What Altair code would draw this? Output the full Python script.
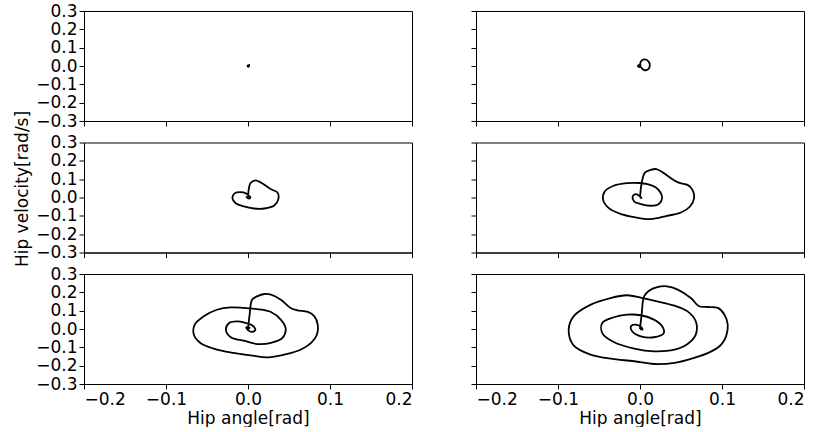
import altair as alt
import pandas as pd

# Panel 1 (top-left): tiny blob at origin
p1_x = [0.0, 0.0012, 0.0015, 0.0008, 0.0, -0.0005, 0.0004, 0.001, 0.0]
p1_y = [0.0, 0.004, 0.006, -0.002, -0.004, 0.001, 0.003, -0.003, 0.0]

# Panel 2 (top-right): small loop
p2_x = [0.0, 0.001, 0.005, 0.010, 0.012, 0.010, 0.005, 0.001, -0.002, -0.0025, -0.001, 0.001, 0.0]
p2_y = [0.0, 0.024, 0.036, 0.027, 0.005, -0.018, -0.022, -0.007, -0.004, 0.002, 0.004, 0.001, 0.0]

# Panel 3 (middle-left)
p3_x = [0.0, 0.003, 0.009, 0.0155, 0.028, 0.036, 0.037, 0.032, 0.020, 0.007, -0.005, -0.015,
        -0.019, -0.016, -0.009, -0.003, 0.001, 0.003, 0.001, -0.002, 0.0]
p3_y = [0.0, 0.078, 0.093, 0.082, 0.045, 0.027, -0.009, -0.044, -0.060, -0.060, -0.049, -0.031,
        -0.004, 0.024, 0.029, 0.024, 0.010, 0.0, -0.006, 0.003, 0.0]

# Panel 4 (middle-right)
p4_x = [0.0, 0.002, 0.006, 0.013, 0.020, 0.029, 0.042, 0.049, 0.058, 0.064, 0.066, 0.061, 0.050,
        0.033, 0.013, -0.007, -0.024, -0.038, -0.045, -0.043, -0.032, -0.016, 0.000, 0.009,
        0.019, 0.025, 0.027, 0.023, 0.013, 0.001, -0.007, -0.009, -0.005, 0.0, 0.002, 0.0]
p4_y = [0.0, 0.078, 0.136, 0.151, 0.155, 0.133, 0.093, 0.078, 0.069, 0.042, -0.004, -0.049, -0.082,
        -0.100, -0.118, -0.107, -0.089, -0.058, -0.013, 0.033, 0.064, 0.078, 0.079, 0.073,
        0.056, 0.027, -0.004, -0.035, -0.045, -0.036, -0.022, 0.005, 0.018, 0.006, -0.003, 0.0]

# Panel 5 (bottom-left)
p5_x = [0.0, 0.002, 0.005, 0.011, 0.020, 0.028, 0.040, 0.052, 0.060, 0.073, 0.081, 0.085, 0.084,
        0.077, 0.064, 0.048, 0.024, 0.003, -0.025, -0.042, -0.058, -0.066, -0.065, -0.054,
        -0.038, -0.021, -0.005, 0.011, 0.028, 0.040, 0.046, 0.042, 0.028, 0.011, -0.005,
        -0.021, -0.027, -0.023, -0.013, -0.003, 0.005, 0.009, 0.005, 0.0, -0.002, 0.002, 0.0]
p5_y = [0.0, 0.078, 0.160, 0.178, 0.191, 0.187, 0.160, 0.115, 0.102, 0.093, 0.069, 0.024, -0.031,
        -0.076, -0.113, -0.136, -0.155, -0.144, -0.125, -0.107, -0.076, -0.031, 0.024, 0.069,
        0.105, 0.118, 0.115, 0.109, 0.093, 0.051, 0.002, -0.049, -0.076, -0.082, -0.064,
        -0.045, -0.004, 0.033, 0.042, 0.033, 0.020, -0.004, -0.016, -0.006, 0.010, 0.006, 0.0]

# Panel 6 (bottom-right)
p6_x = [0.0, 0.002, 0.005, 0.011, 0.021, 0.033, 0.046, 0.062, 0.072, 0.082, 0.095, 0.103, 0.107,
        0.105, 0.099, 0.087, 0.066, 0.042, 0.017, -0.007, -0.036, -0.060, -0.081, -0.087,
        -0.081, -0.060, -0.036, -0.016, 0.002, 0.021, 0.042, 0.058, 0.068, 0.068, 0.058,
        0.042, 0.017, -0.007, -0.032, -0.046, -0.046, -0.032, -0.016, 0.001, 0.017, 0.027,
        0.029, 0.017, 0.001, -0.009, -0.011, -0.005, 0.002, 0.003, 0.0]
p6_y = [0.0, 0.078, 0.178, 0.209, 0.229, 0.233, 0.215, 0.169, 0.124, 0.120, 0.115, 0.078, 0.024,
        -0.040, -0.085, -0.122, -0.158, -0.185, -0.191, -0.176, -0.162, -0.140, -0.089, -0.004,
        0.069, 0.133, 0.169, 0.184, 0.170, 0.151, 0.127, 0.096, 0.042, -0.031, -0.082,
        -0.113, -0.122, -0.107, -0.071, -0.022, 0.033, 0.064, 0.078, 0.075, 0.051, 0.015,
        -0.022, -0.045, -0.040, -0.016, 0.015, 0.024, 0.008, -0.004, 0.0]

x_ticks = [-0.2, -0.1, 0.0, 0.1, 0.2]
y_ticks = [-0.3, -0.2, -0.1, 0.0, 0.1, 0.2, 0.3]

FONT = "DejaVu Sans"
FS = 17


def panel(xs, ys, show_xlabels, show_ylabels, ytitle=None):
    df = pd.DataFrame({"i": list(range(len(xs))), "x": xs, "y": ys})
    xaxis = alt.Axis(values=x_ticks, labels=show_xlabels, format=".1f",
                     title="Hip angle[rad]" if show_xlabels else None, titlePadding=3)
    yargs = dict(values=y_ticks, labels=show_ylabels, format=".1f")
    if ytitle:
        yargs["title"] = ytitle
        yargs["titleY"] = 46
    else:
        yargs["title"] = None
    yaxis = alt.Axis(**yargs)
    return alt.Chart(df).mark_line(color="black", strokeWidth=1.8,
                                   interpolate="catmull-rom").encode(
        x=alt.X("x:Q", scale=alt.Scale(domain=[-0.2, 0.2], nice=False), axis=xaxis),
        y=alt.Y("y:Q", scale=alt.Scale(domain=[-0.3, 0.3], nice=False), axis=yaxis),
        order="i:Q",
    ).properties(width=328, height=110)


panels = [
    panel(p1_x, p1_y, False, True), panel(p2_x, p2_y, False, False),
    panel(p3_x, p3_y, False, True, "Hip velocity[rad/s]"), panel(p4_x, p4_y, False, False),
    panel(p5_x, p5_y, True, True), panel(p6_x, p6_y, True, False),
]

chart = alt.concat(*panels, columns=2, spacing={"row": 21.5, "column": 64},
                   bounds="flush").configure_view(
    stroke="black", strokeWidth=1
).configure_axis(
    grid=False, labelFont=FONT, titleFont=FONT, labelFontSize=FS, titleFontSize=FS,
    labelColor="black", titleColor="black", tickColor="black", domainColor="black",
    tickSize=5, labelPadding=2, titleFontWeight="normal", domainWidth=1, tickWidth=1,
).properties(padding={"left": 13, "top": 1, "right": 0, "bottom": 0})

chart.save("out.html", embed_options={"renderer": "svg", "actions": False})
